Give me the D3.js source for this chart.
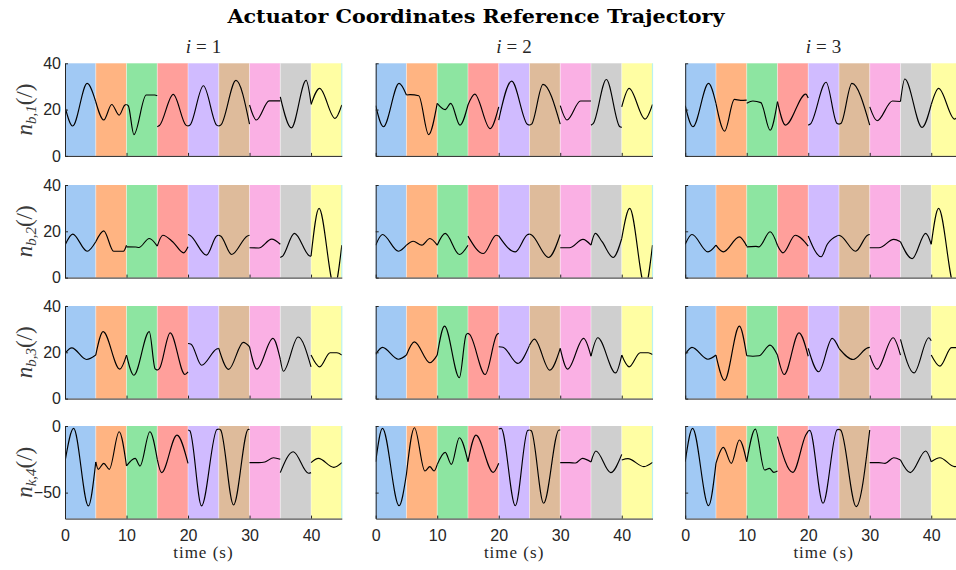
<!DOCTYPE html>
<html>
<head>
<meta charset="utf-8">
<script src="https://cdn.jsdelivr.net/npm/d3@7"></script>
<style>
  body { margin: 0; background: #fff; }
  text { fill: #262626; }
</style>
</head>
<body>
<svg id="chart"></svg>
<script>
// ---- data -----------------------------------------------------------
var bandStarts = [0, 5, 10, 15, 20, 25, 30, 35, 40];
var bandColors = ["#a1c9f4", "#ffb482", "#8de5a1", "#ff9f9b", "#d0bbff",
                  "#debb9b", "#fab0e4", "#cfcfcf", "#fffea3"];
var colTitles = ["1", "2", "3"];
var rowSubs = ["b,1", "b,2", "b,3", "k,4"];
var yDomains = [[0, 40], [0, 40], [0, 40], [-69.5, 0]];
var yTickVals = [[0, 20, 40], [0, 20, 40], [0, 20, 40], [-50, 0]];
var xTickVals = [0, 10, 20, 30, 40];

// each panel: 9 segments (one per 5 s band), each a list of [t, value]
var nb1_i1 = [
  [[0,21.2],[1.25,12.9],[3.6,31.3],[5,23.4]],
  [[5,23.4],[6.3,15.5],[7.6,22.2],[8.8,17.6],[9.7,21.9],[10,22.2]],
  [[10,22.2],[10.3,21.6],[11.2,9.2],[13.2,26.3],[14.6,26.3],[15,26]],
  [[15,12.6],[15.35,13.1],[17.6,26.6],[19.65,13.3],[20,12.9]],
  [[20,12.9],[20.35,13.4],[22.5,30.3],[24.65,13.3],[25,12.9]],
  [[25,12.9],[25.35,13.4],[27.8,32.6],[30,13.7]],
  [[30,22],[31.1,15.5],[33.2,23.8],[35,23.8]],
  [[35,25.5],[36.8,12.1],[39.2,32.6],[40,22.7]],
  [[40,22.2],[41.4,29.2],[43.9,16.2],[45,22]]
];
var nb1_i2 = [
  [[0,21.7],[1.25,12.6],[3.8,31.3],[5,26.3]],
  [[5,26.3],[5.6,26.5],[7,26],[8.6,9.2],[10,22.7]],
  [[10,22.7],[11.3,20],[12.2,22.7],[13.7,13.3],[15,22]],
  [[15,22],[16.1,26.7],[18.6,11.8],[20,21.2]],
  [[20,15.5],[22.1,32.3],[24.65,13.7],[25,13.3]],
  [[25,13.3],[25.35,13.7],[27.2,30.9],[30,13.7]],
  [[30,21.7],[31.1,15.5],[33.3,23.7],[35,23.7]],
  [[35,13.3],[35.35,13.9],[37.5,33],[39.65,12.7],[40,12.3]],
  [[40,21.2],[41.2,29.2],[43.8,15.9],[45,22.2]]
];
var nb1_i3 = [
  [[0,21.7],[1.25,12.6],[3.8,31.3],[5,22.7]],
  [[5,22.7],[6.4,10.7],[8,24.4],[9,24],[10,24.1]],
  [[10,22.7],[11,23.7],[12.3,23],[13.8,11.1],[15,23.4]],
  [[15,23.4],[16.3,13.3],[19.6,26.7],[20,25]],
  [[20,13.3],[20.35,13.8],[22.9,31.8],[24.65,14.1],[25,13.7]],
  [[25,13.7],[25.35,14.1],[27.1,31.3],[30,13.3]],
  [[30,21.2],[31.2,15.2],[33.7,23.7],[35,23.5]],
  [[35,23.5],[35.7,33.2],[38.5,12.3],[40,22.2]],
  [[40,22.2],[41.2,29.2],[43.8,15.9],[45,22]]
];
var nb2_i1 = [
  [[0,14],[1.25,18.8],[3.6,11.4],[5,15.5]],
  [[5,15.5],[6.3,20.2],[7.9,11.4],[9.5,11.4],[10,14]],
  [[10,13.3],[11.5,13.2],[12,13],[13.7,16.9],[15,13.6]],
  [[15,13.6],[15.9,18.3],[17.5,15.5],[19.3,10.7],[20,13.3]],
  [[20,18.6],[20.35,18.2],[23,9.7],[24.65,18],[25,18.3]],
  [[25,18.3],[25.35,17.9],[27.1,10],[29.65,18],[30,18.3]],
  [[30,12.9],[31.5,12.8],[33.6,16.6],[35,14.4]],
  [[35,8.7],[35.35,9.2],[37.3,19.1],[39.65,9.6],[40,9.2]],
  [[40,9.2],[41.3,29.9],[43.8,-4],[45,14]]
];
var nb2_i2 = [
  [[0,14],[1.1,18.6],[3.7,11.4],[5,14]],
  [[5,14],[6.1,15.7],[7.5,14],[8.8,16.9],[10,14]],
  [[10,14],[11.3,19.1],[13.6,10],[15,14]],
  [[15,17.9],[17.5,10.4],[19.6,18.3],[20,18]],
  [[20,18],[22.7,11.1],[24.65,18.5],[25,18.8]],
  [[25,18.8],[25.35,18.4],[28.1,8.7],[30,18.6]],
  [[30,12.9],[31.5,12.9],[33.7,16.5],[35,14]],
  [[35,14],[35.7,19.1],[36.8,15.5],[38.6,8.7],[40,16.9]],
  [[40,16.9],[41.3,29.9],[43.8,-4],[45,14]]
];
var nb2_i3 = [
  [[0,14.4],[1.1,18.6],[3.7,11.1],[5,14]],
  [[5,14],[6.2,11.1],[8.8,17.6],[10,13.6]],
  [[10,13.3],[11.5,13.5],[12,13.3],[13.8,19.8],[15,14]],
  [[15,14],[15.9,10.7],[17.9,18.3],[20,13.6]],
  [[20,18],[22.1,9],[23.1,14.4],[24.65,18],[25,18.3]],
  [[25,18.3],[25.35,17.9],[27.7,11.4],[29.65,18.3],[30,18.6]],
  [[30,12.9],[31.5,12.9],[33.9,16.5],[35,15.5]],
  [[35,15.5],[36.9,8.2],[39.1,19.1],[40,14.4]],
  [[40,14.4],[41.2,29.9],[43.8,-4],[45,14]]
];
var nb3_i1 = [
  [[0,19.5],[1.1,21.9],[3.5,16.9],[5,18.8]],
  [[5,18.8],[6.2,28.9],[8.9,12.7],[10,18.8]],
  [[10,18.8],[11.2,10.1],[13.7,28.9],[14.65,12.8],[15,12.3]],
  [[15,12.3],[15.35,12.9],[17.1,28.4],[19.5,10.4],[20,11.5]],
  [[20,23.8],[20.5,23.5],[22.2,14.4],[24.65,21.4],[25,21.7]],
  [[25,21.7],[26.6,12.6],[29,24.3],[30,22.4]],
  [[30,22.4],[31.2,12.7],[33.8,26],[35,17]],
  [[35,17],[35.5,11.8],[37.9,26.6],[40,13.7]],
  [[40,18.8],[41.4,13.7],[43.1,19.8],[44.2,19.8],[45,18.8]]
];
var nb3_i2 = [
  [[0,19.1],[1.1,22.1],[3.7,17],[5,18.8]],
  [[5,18.8],[6.3,24.5],[8.8,15.5],[10,18.8]],
  [[10,18.8],[11.2,31.3],[13.6,9],[14.7,27.6],[15,28.2]],
  [[15,28.2],[15.3,27.6],[17.8,10.4],[19.7,27.6],[20,28.2]],
  [[20,22.4],[20.7,22.2],[23.1,15.2],[25,23]],
  [[25,23],[25.8,25.7],[28.3,12.3],[30,21.7]],
  [[30,21.7],[31.2,12.7],[33.8,26],[35,18.3]],
  [[35,18.3],[36.1,26.3],[39,11.1],[40,18.8]],
  [[40,18.8],[41.2,13.7],[43,19.8],[44.3,19.8],[45,19.1]]
];
var nb3_i3 = [
  [[0,19.1],[1.1,22.1],[3.7,17],[5,18.8]],
  [[5,18.8],[6.4,7.9],[8.8,31.3],[10,18.5]],
  [[10,18.5],[11,18.3],[12,18.5],[13.8,23.1],[15,18.8]],
  [[15,18.8],[16.1,10.4],[18.5,28.4],[20,18.3]],
  [[20,21.7],[21.7,11.6],[23.9,26],[25,21.7]],
  [[25,21.7],[27.3,16.9],[29.65,21.9],[30,22.1]],
  [[30,18.8],[31.2,12.7],[33.8,26.3],[35,18.8]],
  [[35,25.6],[37.2,11.1],[39.6,26.3],[40,25]],
  [[40,18.8],[41.4,14],[43.3,22],[45,22]]
];
var nk4_i1 = [
  [[0,-26.8],[1.4,-1.8],[3.8,-60],[5,-27]],
  [[5,-27],[5.4,-32.5],[6.3,-28],[7.2,-32.5],[8.8,-4.3],[10,-30]],
  [[10,-30],[11.4,-24.3],[12.2,-30],[13.8,-4.3],[15,-25]],
  [[15,-25],[15.7,-35],[18.2,-6.8],[20,-28]],
  [[20,-3],[20.3,-3.6],[22.2,-60],[24.7,-2.6],[25,-2.3]],
  [[25,-2.3],[25.3,-3],[27.4,-59.3],[29.8,-2.5],[30,-2.6]],
  [[30,-27.5],[31.5,-27.5],[32.5,-27],[33.9,-23.8],[35,-25]],
  [[35,-35],[37.1,-19.3],[39.6,-35.5],[40,-35]],
  [[40,-27.5],[41.2,-24.3],[43.7,-31],[45,-27.5]]
];
var nk4_i2 = [
  [[0,-26.8],[1.1,-1.8],[3.8,-59.8],[5,-36]],
  [[5,-36],[6.3,-1.3],[8,-33.8],[8.8,-30.5],[9.5,-33.8],[10,-29]],
  [[10,-29],[11.3,-19.8],[12.3,-28.8],[13.6,-8.8],[15,-26.8]],
  [[15,-26.8],[16.3,-6.8],[19.1,-34.8],[20,-28]],
  [[20,-2.3],[20.4,-1.8],[22.7,-59.8],[24.7,-3.4],[25,-3]],
  [[25,-3],[25.3,-3.6],[27.3,-58],[29.8,-3],[30,-3.1]],
  [[30,-27.5],[31.5,-27.5],[32.5,-27.8],[33.6,-24.3],[35,-27]],
  [[35,-27],[35.8,-18.8],[38.2,-35],[40,-21.3]],
  [[40,-25.5],[41,-24.5],[43.6,-30.5],[45,-27.3]]
];
var nk4_i3 = [
  [[0,-26.8],[1.2,-1.8],[3.8,-59.8],[5,-28]],
  [[5,-28],[6.2,-16],[7.5,-28],[8.8,-10.5],[10,-26.8]],
  [[10,-26.8],[11.4,-2.3],[12.9,-33],[13.7,-31.8],[14.4,-34.8],[15,-33.8]],
  [[15,-8],[17.5,-34.8],[19.6,-6.8],[20,-3.8]],
  [[20,-3.8],[20.25,-3.3],[22.4,-58],[24.7,-2.8],[25,-2.5]],
  [[25,-2.5],[25.3,-3.2],[27.8,-60.5],[30,-3]],
  [[30,-27.5],[31.5,-27.5],[32.5,-28],[33.9,-23.8],[35,-25.5]],
  [[35,-25.5],[36.6,-35],[39.1,-18.8],[40,-26.8]],
  [[40,-26.8],[41.4,-23.8],[43.8,-30.5],[45,-28]]
];

var panels = [
  [nb1_i1, nb1_i2, nb1_i3],
  [nb2_i1, nb2_i2, nb2_i3],
  [nb3_i1, nb3_i2, nb3_i3],
  [nk4_i1, nk4_i2, nk4_i3]
];

// ---- layout ---------------------------------------------------------
var width = 956, height = 570;
var colX = [65, 375.7, 685.2], plotW = 276.8;
var rowY = [63.3, 185, 306, 426], plotH = 92.6;
var serif = "'Liberation Serif', 'DejaVu Serif', serif";

var svg = d3.select("#chart")
    .attr("width", width)
    .attr("height", height);

var defs = svg.append("defs");

svg.append("text")
    .attr("x", 476)
    .attr("y", 23)
    .attr("text-anchor", "middle")
    .attr("textLength", 497)
    .attr("lengthAdjust", "spacingAndGlyphs")
    .style("font-family", "'DejaVu Serif', serif")
    .style("font-weight", "bold")
    .style("font-size", "19px")
    .style("fill", "#000")
    .text("Actuator Coordinates Reference Trajectory");

var x = d3.scaleLinear().domain([0, 45]).range([0, plotW]);

var line = d3.line()
    .x(function(d) { return x(d[0]); })
    .curve(d3.curveMonotoneX);

panels.forEach(function(row, r) {
    var y = d3.scaleLinear().domain(yDomains[r]).range([plotH, 0]);
    line.y(function(d) { return y(d[1]); });

    row.forEach(function(segs, c) {
        var g = svg.append("g")
            .attr("transform", "translate(" + colX[c] + "," + rowY[r] + ")");

        var clipId = "clip-" + r + "-" + c;
        defs.append("clipPath").attr("id", clipId)
            .append("rect").attr("width", plotW).attr("height", plotH);

        g.selectAll(".band")
            .data(bandStarts)
            .enter().append("rect")
            .attr("class", "band")
            .attr("x", function(d) { return x(d); })
            .attr("width", function(d) { return x(d + 5) - x(d); })
            .attr("height", plotH)
            .style("fill", function(d, i) { return bandColors[i]; });

        g.selectAll(".sep")
            .data(bandStarts.slice(1))
            .enter().append("line")
            .attr("x1", function(d) { return x(d); })
            .attr("x2", function(d) { return x(d); })
            .attr("y2", plotH)
            .style("stroke", "#fff")
            .style("stroke-opacity", 0.55)
            .style("stroke-width", 0.8);

        g.append("line")
            .attr("x1", x(45)).attr("x2", x(45)).attr("y2", plotH)
            .style("stroke", "#b9f2f0").style("stroke-width", 1.2);

        g.append("g")
            .attr("clip-path", "url(#" + clipId + ")")
            .selectAll("path")
            .data(segs)
            .enter().append("path")
            .attr("d", line)
            .style("fill", "none")
            .style("stroke", "#000")
            .style("stroke-width", 1.15);

        var yAxis = d3.axisLeft(y)
            .tickValues(yTickVals[r])
            .tickSizeInner(-3)
            .tickSizeOuter(0)
            .tickPadding(4);
        if (c > 0) yAxis.tickFormat("");

        var xAxis = d3.axisBottom(x)
            .tickValues(xTickVals)
            .tickSizeInner(-3)
            .tickSizeOuter(0)
            .tickPadding(11);
        if (r < 3) xAxis.tickFormat("");

        var ya = g.append("g").call(yAxis);
        var xa = g.append("g").attr("transform", "translate(0," + plotH + ")").call(xAxis);

        [ya, xa].forEach(function(a) {
            a.selectAll("path, line").style("stroke", "#262626").style("stroke-width", 1);
            a.selectAll("text")
                .style("font-family", "'Liberation Sans', Arial, sans-serif")
                .style("font-size", "16px")
                .style("fill", "#262626");
        });

        if (r === 0) {
            var t = g.append("text")
                .attr("x", plotW / 2)
                .attr("y", -10)
                .attr("text-anchor", "middle")
                .style("font-family", serif)
                .style("font-size", "19px");
            t.append("tspan").style("font-style", "italic").text("i");
            t.append("tspan").attr("dx", 5).text("=");
            t.append("tspan").attr("dx", 5).text(colTitles[c]);
        }

        if (r === 3) {
            g.append("text")
                .attr("x", plotW / 2)
                .attr("y", plotH + 39.5)
                .attr("text-anchor", "middle")
                .style("font-family", serif)
                .style("font-size", "17px")
                .style("letter-spacing", "1px")
                .text("time (s)");
        }

        if (c === 0) {
            var lab = g.append("text")
                .attr("transform", "translate(-33," + (plotH / 2) + ") rotate(-90)")
                .attr("text-anchor", "middle")
                .style("font-family", serif)
                .style("font-size", "23px")
                .style("fill", "#3a3a3a");
            lab.append("tspan").style("font-style", "italic").text("n");
            lab.append("tspan").attr("dy", 4).style("font-size", "15px")
                .style("font-style", "italic").text(rowSubs[r]);
            lab.append("tspan").attr("dy", -4).text("(/)");
        }
    });
});
</script>
</body>
</html>
